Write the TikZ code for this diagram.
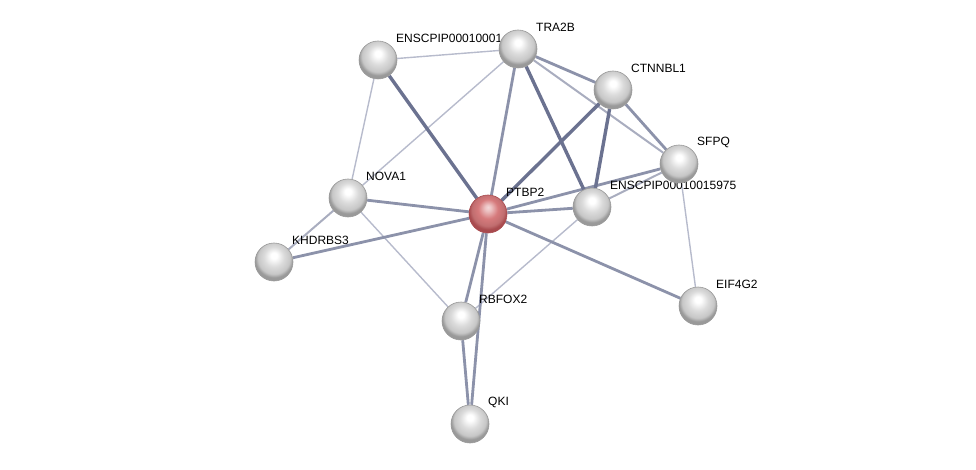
\documentclass[tikz,border=0pt]{standalone}
\usepackage{fontspec}
\setmainfont{Liberation Sans}
\usetikzlibrary{backgrounds}

\definecolor{edgestrong}{HTML}{6B7290}
\definecolor{edgemid}{HTML}{8C92AA}
\definecolor{edgeweak}{HTML}{B7BBCC}
\definecolor{hubbody}{HTML}{D67A7C}
\definecolor{hubrim}{HTML}{A84A4E}

\pgfdeclareradialshading{ballwhite}{\pgfpoint{0bp}{9bp}}{color(0bp)=(white); color(4bp)=(white); color(13bp)=(black!14); color(21bp)=(black!22); color(25bp)=(black!40); color(50bp)=(black!40)}
\pgfdeclareradialshading{ballred}{\pgfpoint{0bp}{9bp}}{color(0bp)=(white!70!hubbody); color(4bp)=(white!55!hubbody); color(13bp)=(hubbody); color(21bp)=(hubbody!90!black); color(25bp)=(hubrim); color(50bp)=(hubrim)}

\tikzset{
  ball/.style={circle, minimum size=38pt, inner sep=0pt, shading=ballwhite, draw=black!40, line width=0.6pt},
  hub/.style={ball, shading=ballred, draw=hubrim},
  txt/.style={anchor=west, inner sep=1pt, font=\fontsize{12}{14}\selectfont},
  strong/.style={draw=edgestrong, line width=3.4pt},
  mid/.style={draw=edgemid, line width=2.8pt},
  light/.style={draw=edgemid!75!white, line width=2pt},
  weak/.style={draw=edgeweak, line width=1.4pt}
}

\begin{document}
\begin{tikzpicture}[x=1pt, y=-1pt]
        \useasboundingbox (0,0) rectangle (976,470);

        % Labels, then the proteins on top of them
        \foreach \id/\px/\py/\name in {ensa/378/60/ENSCPIP00010001, tra/518/49/TRA2B, ctn/613/90/CTNNBL1,
            sfpq/679/164/SFPQ, ensb/592/207/ENSCPIP00010015975, nova/348/198/NOVA1, ptbp/488/214/PTBP2,
            khd/274/262/KHDRBS3, rbf/461/321/RBFOX2, eif/698/306/EIF4G2, qki/470/424/QKI}
            \node[txt] (\id-lbl) at (\px+17,\py-22) {\name};
        \foreach \id/\px/\py in {ensa/378/60, tra/518/49, ctn/613/90, sfpq/679/164, ensb/592/207,
            nova/348/198, khd/274/262, rbf/461/321, eif/698/306, qki/470/424}
            \node[ball] (\id) at (\px,\py) {};
        \node[hub] (ptbp) at (488,214) {};

        % Interactions
        \begin{pgfonlayer}{background}
        \draw[weak] (ensa) -- (tra);
        \draw[weak] (ensa) -- (nova);
        \draw[weak] (tra) -- (nova);
        \draw[weak] (nova) -- (rbf);
        \draw[weak] (rbf) -- (ensb);
        \draw[weak] (sfpq) -- (eif);
        \draw[light] (tra) -- (sfpq);
        \draw[light] (ensb) -- (sfpq);
        \draw[light] (nova) -- (khd);
        \draw[mid] (tra) -- (ptbp);
        \draw[mid] (tra) -- (ctn);
        \draw[mid] (ctn) -- (sfpq);
        \draw[mid] (ptbp) -- (sfpq);
        \draw[mid] (ptbp) -- (ensb);
        \draw[mid] (ptbp) -- (nova);
        \draw[mid] (ptbp) -- (khd);
        \draw[mid] (ptbp) -- (rbf);
        \draw[mid] (ptbp) -- (qki);
        \draw[mid] (rbf) -- (qki);
        \draw[mid] (ptbp) -- (eif);
        \draw[strong] (ensa) -- (ptbp);
        \draw[strong] (tra) -- (ensb);
        \draw[strong] (ctn) -- (ptbp);
        \draw[strong] (ctn) -- (ensb);
        \end{pgfonlayer}
    \end{tikzpicture}
\end{document}
